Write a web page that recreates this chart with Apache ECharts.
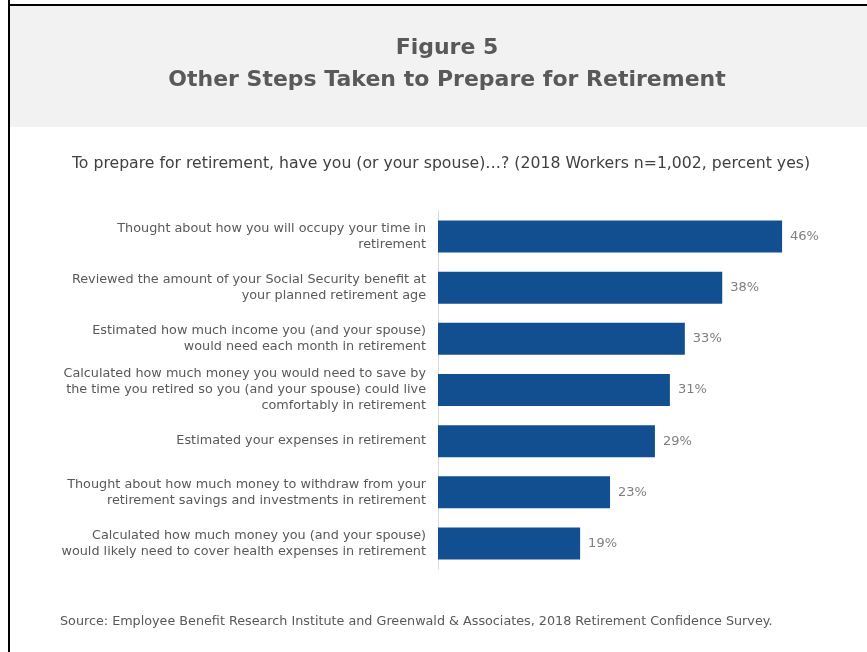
<!DOCTYPE html>
<html>
<head>
<meta charset="utf-8">
<script src="https://cdn.jsdelivr.net/npm/echarts@6/dist/echarts.min.js"></script>
<style>
html,body{margin:0;padding:0;background:#fff;}
#chart{width:867px;height:652px;}
</style>
</head>
<body>
<div id="chart"></div>
<script>
const categories = [
  "Thought about how you will occupy your time in\nretirement",
  "Reviewed the amount of your Social Security benefit at\nyour planned retirement age",
  "Estimated how much income you (and your spouse)\nwould need each month in retirement",
  "Calculated how much money you would need to save by\nthe time you retired so you (and your spouse) could live\ncomfortably in retirement",
  "Estimated your expenses in retirement",
  "Thought about how much money to withdraw from your\nretirement savings and investments in retirement",
  "Calculated how much money you (and your spouse)\nwould likely need to cover health expenses in retirement"
];
const percentYes = [46, 38, 33, 31, 29, 23, 19];
const titleText = "Figure 5\nOther Steps Taken to Prepare for Retirement";
const subtitleText = "To prepare for retirement, have you (or your spouse)\u2026? (2018 Workers n=1,002, percent yes)";
const sourceText = "Source: Employee Benefit Research Institute and Greenwald & Associates, 2018 Retirement Confidence Survey.";

const FONT = "DejaVu Sans";
const chart = echarts.init(document.getElementById('chart'), null, {renderer: 'canvas'});
chart.setOption({
  backgroundColor: '#ffffff',
  animation: false,
  graphic: [
    {type: 'rect', z: -10, shape: {x: 9, y: 5, width: 860, height: 122}, style: {fill: '#f2f2f2'}},
    {type: 'line', z: 10, shape: {x1: 9, y1: 0, x2: 9, y2: 660}, style: {stroke: '#000', lineWidth: 2}},
    {type: 'line', z: 10, shape: {x1: 8, y1: 5, x2: 870, y2: 5}, style: {stroke: '#000', lineWidth: 2}}
  ],
  title: [
    {
      text: titleText, left: 442, top: 27, textAlign: 'center',
      textStyle: {fontFamily: FONT, fontWeight: 'bold', fontSize: 22, color: '#595959', lineHeight: 32, align: 'center'}
    },
    {
      text: subtitleText, left: 436, top: 151, textAlign: 'center',
      textStyle: {fontFamily: FONT, fontWeight: 'normal', fontSize: 15.7, color: '#404040'}
    },
    {
      text: sourceText, left: 55, top: 610,
      textStyle: {fontFamily: FONT, fontWeight: 'normal', fontSize: 12.75, color: '#595959'}
    }
  ],
  grid: {left: 438, right: 55, top: 211, bottom: 83, containLabel: false},
  xAxis: {
    type: 'value', min: 0, max: 50, show: false, splitLine: {show: false}
  },
  yAxis: {
    type: 'category', data: categories, inverse: true,
    axisLine: {show: true, lineStyle: {color: '#d9d9d9', width: 1}},
    axisTick: {show: false},
    axisLabel: {
      fontFamily: FONT, fontSize: 12.8, color: '#595959', margin: 12,
      lineHeight: 16, align: 'right'
    }
  },
  series: [{
    type: 'bar', data: percentYes, barWidth: 32,
    itemStyle: {color: '#114f91'},
    label: {
      show: true, position: 'right', distance: 8, formatter: '{c}%',
      fontFamily: FONT, fontSize: 13, color: '#7f7f7f'
    }
  }]
});
</script>
</body>
</html>
